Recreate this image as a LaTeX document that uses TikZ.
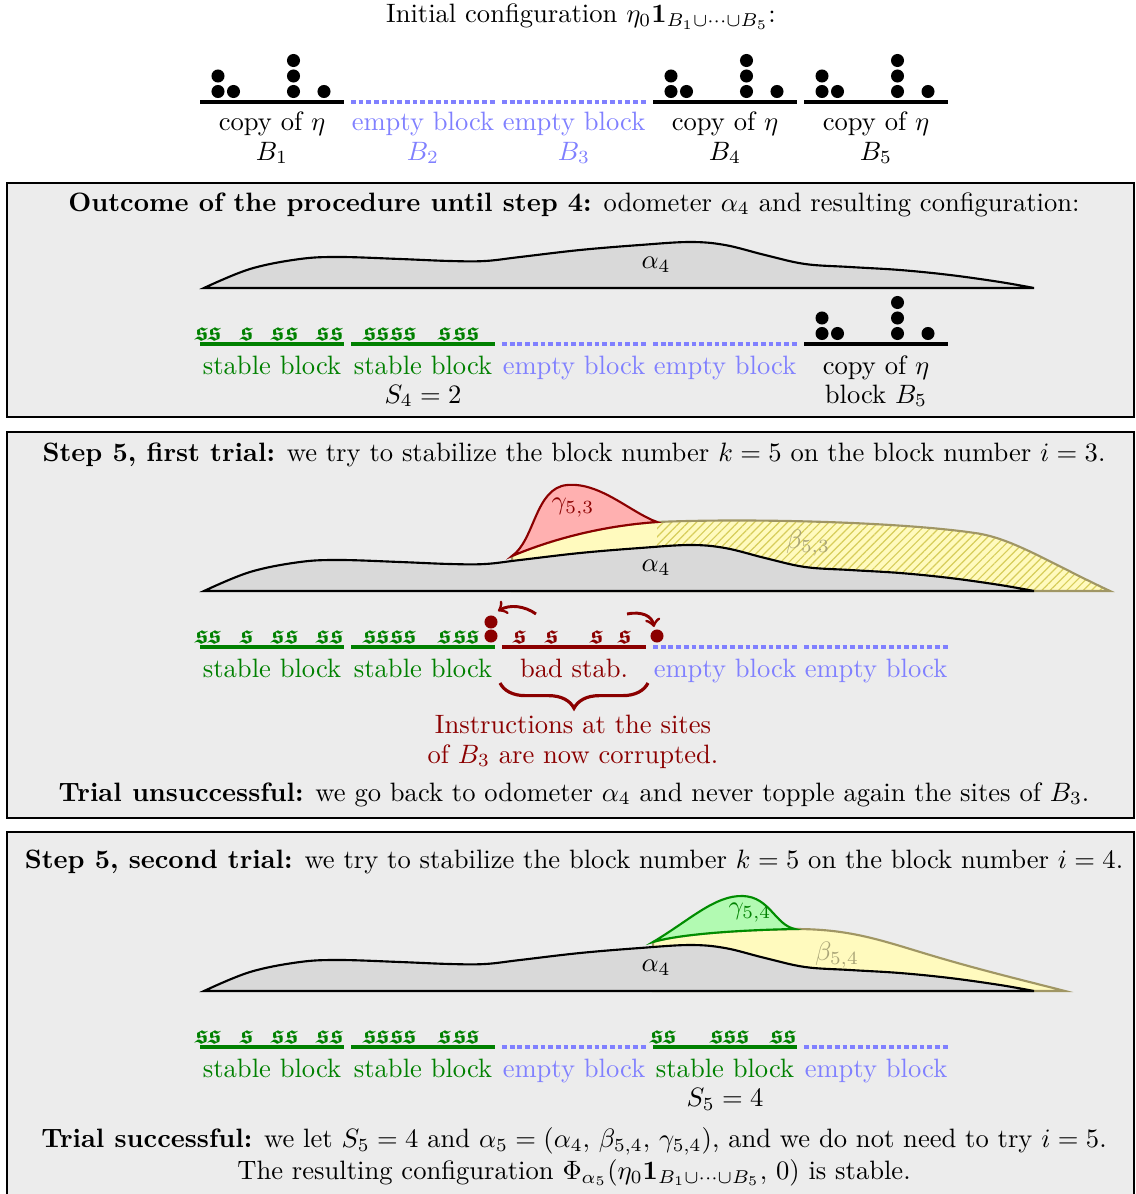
\documentclass[tikz,border=0pt]{standalone}
\usepackage{amsmath,amssymb}
\usetikzlibrary{decorations.pathreplacing,patterns.meta}
\definecolor{dred}{RGB}{139,0,0}
\definecolor{stab}{RGB}{0,128,0}
\definecolor{emp}{RGB}{128,128,255}
\definecolor{bfill}{RGB}{255,250,190}
\definecolor{bdraw}{RGB}{160,150,100}
\definecolor{blab}{RGB}{170,165,120}
\definecolor{hatch}{RGB}{215,205,90}
\definecolor{gfill}{RGB}{255,176,176}
\definecolor{gfourfill}{RGB}{178,250,178}
\definecolor{gfourdraw}{RGB}{0,140,0}
\definecolor{boxfill}{RGB}{236,236,236}
\definecolor{afill}{RGB}{217,217,217}
\tikzset{
  lab/.style={anchor=base, inner sep=0pt, outer sep=0pt},
  baseln/.style={draw=black, line width=1.2pt},
  emptyln/.style={draw=emp, line width=1.2pt, dash pattern=on 1.8pt off 1.1pt},
  dotn/.style={circle, fill=#1, draw=none, inner sep=0pt, minimum size=4.9pt},
  dotn/.default=black,
  sglyph/.style={anchor=base, inner sep=0pt, text=#1},
  boxr/.style={fill=boxfill, draw=black, line width=0.8pt},
  afil/.style={fill=afill, draw=black, line width=0.8pt},
  bpath/.style={draw=bdraw, line width=0.8pt},
  movearrow/.style={draw=dred, line width=1.1pt, ->},
}
\newcommand\alphapath{plot[smooth, tension=0.6] coordinates {(204,0) (250,-19) (300,-29) (340,-31) (400,-29) (450,-27) (485,-27) (520,-31) (580,-38) (640,-43) (690,-46) (725,-43) (765,-33) (805,-24) (850,-21) (900,-18) (950,-13) (1000,-6) (1034,0)}}
\newcommand\betathreepath{(512,-35) .. controls (550,-51) and (600,-65) .. (657,-69) .. controls (750,-73) and (900,-69) .. (975,-58) .. controls (1012,-53) and (1050,-28) .. (1110,0) -- (512,0) -- cycle}
\newcommand\etablock[3]{%
  \draw[baseln] (#1,#2) -- ({#1+144},#2);
  \node[dotn] (#3a) at ({#1+18},{#2-10.5}) {};
  \node[dotn] (#3b) at ({#1+18},{#2-26}) {};
  \node[dotn] (#3c) at ({#1+33.5},{#2-10.5}) {};
  \node[dotn] (#3d) at ({#1+93.5},{#2-10.5}) {};
  \node[dotn] (#3e) at ({#1+93.5},{#2-26}) {};
  \node[dotn] (#3f) at ({#1+93.5},{#2-41.5}) {};
  \node[dotn] (#3g) at ({#1+124},{#2-10.5}) {};
}
\newcommand\emptyblock[2]{\draw[emptyln] (#1,#2) -- ({#1+144},#2);}
\newcommand\sblock[5]{%
  \draw[draw=#4, line width=1.2pt] (#1,#2) -- ({#1+144},#2);
  \foreach \ofs [count=\n] in {#3} \node[sglyph=#4] (#5\n) at ({#1+\ofs},{#2-4}) {$\boldsymbol{\mathfrak{s}}$};
}
\begin{document}
\begin{tikzpicture}[x=0.3762pt, y=-0.3762pt]
\useasboundingbox (0,0) rectangle (1135,1194);
% ---------- top ----------
\node[lab] (title) at (581,23) {Initial configuration $\eta_0\mathbf{1}_{B_1\cup\cdots\cup B_5}$:};
\etablock{200}{102}{ta}
\emptyblock{351}{102}
\emptyblock{502}{102}
\etablock{653}{102}{tb}
\etablock{804}{102}{tc}
\node[lab] (l11) at (272,131) {copy of $\eta$};
\node[lab,text=emp] (l12) at (423,131) {empty block};
\node[lab,text=emp] (l13) at (574,131) {empty block};
\node[lab] (l14) at (725,131) {copy of $\eta$};
\node[lab] (l15) at (876,131) {copy of $\eta$};
\node[lab] (b1) at (272,160) {$B_1$};
\node[lab,text=emp] (b2) at (423,160) {$B_2$};
\node[lab,text=emp] (b3) at (574,160) {$B_3$};
\node[lab] (b4) at (725,160) {$B_4$};
\node[lab] (b5) at (876,160) {$B_5$};
% ---------- box 1 ----------
\draw[boxr] (7,183) rectangle (1133.6,417);
\node[lab] (t1) at (574,211) {\textbf{Outcome of the procedure until step 4:} odometer $\alpha_4$ and resulting configuration:};
\begin{scope}[shift={(0,288)}]
  \draw[afil] \alphapath -- cycle;
  \node (aa) at (656,-23) {$\alpha_4$};
\end{scope}
\sblock{200}{344}{2,15,47,78,92,123,137}{stab}{sa}
\sblock{351}{344}{19,32,46,59,94,109,122}{stab}{sb}
\emptyblock{502}{344}
\emptyblock{653}{344}
\etablock{804}{344}{td}
\node[lab,text=stab] (m11) at (272,374) {stable block};
\node[lab,text=stab] (m12) at (423,374) {stable block};
\node[lab,text=emp] (m13) at (574,374) {empty block};
\node[lab,text=emp] (m14) at (725,374) {empty block};
\node[lab] (m15) at (876,374) {copy of $\eta$};
\node[lab] (m22) at (423,403) {$S_4=2$};
\node[lab] (m25) at (876,403) {block $B_5$};
% ---------- box 2 ----------
\draw[boxr] (7,432) rectangle (1133.6,818);
\node[lab] (t2) at (574,461) {\textbf{Step 5, first trial:} we try to stabilize the block number $k=5$ on the block number $i=3$.};
\begin{scope}[shift={(0,591)}]
  \fill[bfill] \betathreepath;
  \begin{scope}
    \clip (657,-150) rectangle (1130,5);
    \fill[pattern={Lines[angle=45,distance=2.2pt,line width=0.45pt]}, pattern color=hatch] \betathreepath;
  \end{scope}
  \draw[bpath] \betathreepath;
  \draw[afil] \alphapath -- cycle;
  \draw[fill=gfill, draw=dred, line width=0.8pt] (512,-35) .. controls (535,-51) and (535,-103) .. (567,-106) .. controls (600,-109) and (630,-79) .. (657,-69) .. controls (600,-65) and (550,-51) .. (512,-35) -- cycle;
  \node (ab) at (656,-23) {$\alpha_4$};
  \node[text=dred] (g53) at (573,-83) {$\gamma_{5,3}$};
  \node[text=blab] (b53) at (808,-48) {$\beta_{5,3}$};
\end{scope}
\sblock{200}{647}{2,15,47,78,92,123,137}{stab}{sc}
\sblock{351}{647}{19,32,46,59,94,109,122}{stab}{sd}
\sblock{502}{647}{18,50,95,123}{dred}{se}
\emptyblock{653}{647}
\emptyblock{804}{647}
\node[dotn=dred] (r1) at (491,636) {};
\node[dotn=dred] (r2) at (491,622) {};
\node[dotn=dred] (r3) at (657,636) {};
\coordinate (p1) at (536,614);
\coordinate (p2) at (498,611);
\coordinate (p3) at (627,614);
\coordinate (p4) at (654,627);
\draw[movearrow] (p1) .. controls (525,606) and (510,604) .. (p2);
\draw[movearrow] (p3) .. controls (642,611) and (652,616) .. (p4);
\node[lab,text=stab] (n11) at (272,677) {stable block};
\node[lab,text=stab] (n12) at (423,677) {stable block};
\node[lab,text=dred] (n13) at (574,677) {bad stab.};
\node[lab,text=emp] (n14) at (725,677) {empty block};
\node[lab,text=emp] (n15) at (876,677) {empty block};
\coordinate (br1) at (500,683);
\coordinate (br2) at (648,683);
\draw[dred, line width=1.2pt, decorate, decoration={brace, mirror, amplitude=9.5pt}] (br1) -- (br2);
\node[lab,text=dred] (ins1) at (573,733) {Instructions at the sites};
\node[lab,text=dred] (ins2) at (573,763) {of $B_3$ are now corrupted.};
\node[lab] (tu) at (574,801) {\textbf{Trial unsuccessful:} we go back to odometer $\alpha_4$ and never topple again the sites of $B_3$.};
% ---------- box 3 ----------
\draw[boxr] (7,832) rectangle (1133.6,1210);
\node[lab] (t3) at (574,868) {\textbf{Step 5, second trial:} we try to stabilize the block number $k=5$ on the block number $i=4$.};
\begin{scope}[shift={(0,991)}]
  \draw[fill=bfill, bpath] (653,-49) .. controls (680,-57) and (740,-61) .. (795,-62) .. controls (850,-62) and (880,-51) .. (930,-36) .. controls (980,-21) and (1030,-9) .. (1065,0) -- (653,0) -- cycle;
  \draw[afil] \alphapath -- cycle;
  \draw[fill=gfourfill, draw=gfourdraw, line width=0.8pt] (653,-49) .. controls (690,-71) and (715,-96) .. (743,-95) .. controls (770,-94) and (775,-66) .. (795,-62) .. controls (740,-61) and (680,-57) .. (653,-49) -- cycle;
  \node (ac) at (656,-23) {$\alpha_4$};
  \node[text=stab] (g54) at (750,-78) {$\gamma_{5,4}$};
  \node[text=blab] (b54) at (837,-36) {$\beta_{5,4}$};
\end{scope}
\sblock{200}{1047}{2,15,47,78,92,123,137}{stab}{sf}
\sblock{351}{1047}{19,32,46,59,94,109,122}{stab}{sg}
\emptyblock{502}{1047}
\sblock{653}{1047}{4,17,64,77,90,124,137}{stab}{sh}
\emptyblock{804}{1047}
\node[lab,text=stab] (q11) at (272,1077) {stable block};
\node[lab,text=stab] (q12) at (423,1077) {stable block};
\node[lab,text=emp] (q13) at (574,1077) {empty block};
\node[lab,text=stab] (q14) at (725,1077) {stable block};
\node[lab,text=emp] (q15) at (876,1077) {empty block};
\node[lab] (q24) at (725,1106) {$S_5=4$};
\node[lab] (ts) at (574,1147) {\textbf{Trial successful:} we let $S_5=4$ and $\alpha_5=(\alpha_4,\,\beta_{5,4},\,\gamma_{5,4})$, and we do not need to try $i=5$.};
\node[lab] (tr) at (574,1179) {The resulting configuration $\Phi_{\alpha_5}(\eta_0\mathbf{1}_{B_1\cup\cdots\cup B_5},\,0)$ is stable.};
\end{tikzpicture}
\end{document}
